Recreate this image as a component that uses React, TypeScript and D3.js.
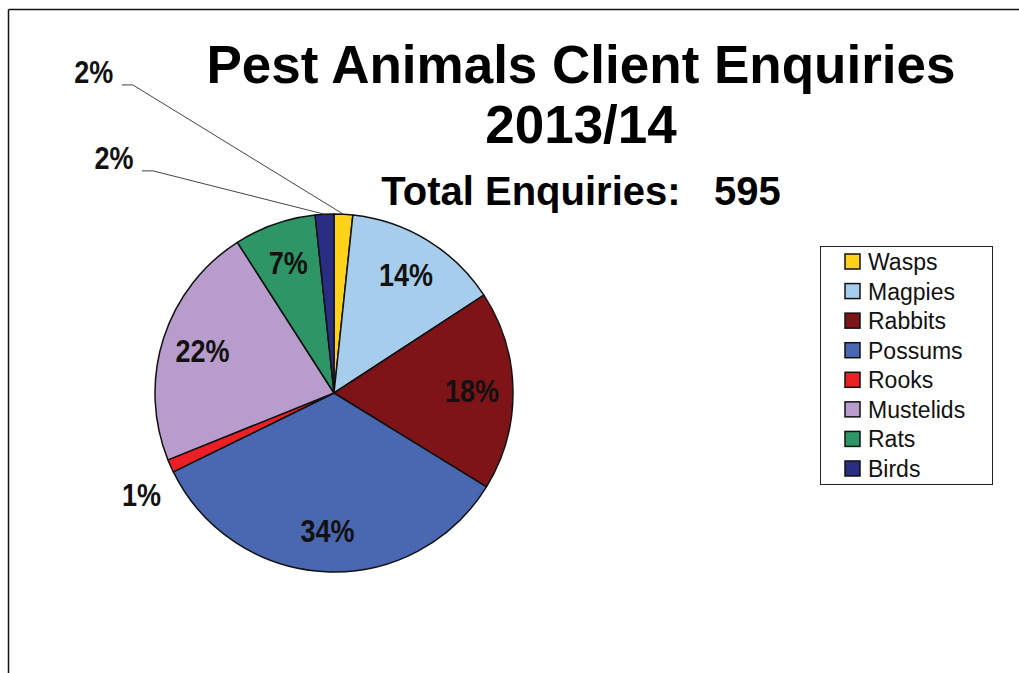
import { useEffect, useRef } from 'react';
import * as d3 from 'd3';

/**
 * Pest animals client enquiries 2013/14 — pie chart, 595 enquiries in total,
 * starting at 12 o'clock and running clockwise.
 */

const WIDTH = 1019;
const HEIGHT = 673;
const FONT = 'Liberation Sans, Arial, Helvetica, sans-serif';

const CATEGORIES = ['Wasps', 'Magpies', 'Rabbits', 'Possums', 'Rooks', 'Mustelids', 'Rats', 'Birds'];
const ENQUIRIES = [10, 84, 107, 202, 7, 131, 44, 10];
const COLORS = ['#ffd21a', '#a7cdec', '#7e1417', '#4a67b2', '#ec1f26', '#b89ccb', '#2e9566', '#2a2e82'];

/** Labels pulled outside the pie: polar placement (degrees clockwise from top, radius px). */
const OUTSIDE_LABELS: Record<string, { angle: number; radius: number; leader: boolean }> = {
  Rooks: { angle: 242, radius: 218, leader: false },
  Birds: { angle: 316.9, radius: 322, leader: true },
  Wasps: { angle: 323.2, radius: 401, leader: true },
};

const PIE_CENTER = { x: 334, y: 393 };
const PIE_RADIUS = 179;
const INSIDE_LABEL_RADIUS = 138;

export default function App() {
  const svgRef = useRef<SVGSVGElement | null>(null);

  useEffect(() => {
    const svgEl = svgRef.current;
    if (!svgEl) return;
    const svg = d3.select(svgEl);
    svg.selectAll('*').remove();

    const total = d3.sum(ENQUIRIES);
    const rows = CATEGORIES.map((name, i) => ({ name, value: ENQUIRIES[i], color: COLORS[i] }));

    // ---- Frame (top + left edges only) ---------------------------------
    svg.append('line').attr('x1', 8.5).attr('x2', WIDTH).attr('y1', 9.5).attr('y2', 9.5)
      .attr('stroke', '#111').attr('stroke-width', 1.5);
    svg.append('line').attr('x1', 8.5).attr('x2', 8.5).attr('y1', 9.5).attr('y2', HEIGHT)
      .attr('stroke', '#111').attr('stroke-width', 1.5);

    // ---- Titles ---------------------------------------------------------
    const titleX = 581;
    svg.append('text').attr('x', titleX).attr('y', 83).attr('text-anchor', 'middle')
      .attr('font-family', FONT).attr('font-weight', 'bold').attr('font-size', 53)
      .attr('fill', '#000').text('Pest Animals Client Enquiries');
    svg.append('text').attr('x', titleX).attr('y', 143).attr('text-anchor', 'middle')
      .attr('font-family', FONT).attr('font-weight', 'bold').attr('font-size', 53)
      .attr('fill', '#000').text('2013/14');
    svg.append('text').attr('x', titleX).attr('y', 205).attr('text-anchor', 'middle')
      .attr('font-family', FONT).attr('font-weight', 'bold').attr('font-size', 40)
      .attr('fill', '#000').style('white-space', 'pre')
      .text(`Total Enquiries:   ${total}`);

    // ---- Pie -------------------------------------------------------------
    const pie = d3.pie<{ name: string; value: number; color: string }>()
      .value((d) => d.value).sort(null);
    const arcs = pie(rows);
    const arc = d3.arc<d3.PieArcDatum<{ name: string; value: number; color: string }>>()
      .innerRadius(0).outerRadius(PIE_RADIUS);
    const labelArc = d3.arc<d3.PieArcDatum<{ name: string; value: number; color: string }>>()
      .innerRadius(INSIDE_LABEL_RADIUS).outerRadius(INSIDE_LABEL_RADIUS);

    const root = svg.append('g').attr('transform', `translate(${PIE_CENTER.x}, ${PIE_CENTER.y})`);
    root.selectAll('path.slice').data(arcs).join('path')
      .attr('class', 'slice')
      .attr('d', arc)
      .attr('fill', (d) => d.data.color)
      .attr('stroke', '#111')
      .attr('stroke-width', 1.5)
      .attr('stroke-linejoin', 'round');

    const polar = (angleDeg: number, r: number): [number, number] => {
      const a = (angleDeg * Math.PI) / 180;
      return [Math.sin(a) * r, -Math.cos(a) * r];
    };

    arcs.forEach((d) => {
      const pct = `${Math.round((d.data.value / total) * 100)}%`;
      const outside = OUTSIDE_LABELS[d.data.name];
      let lx: number;
      let ly: number;
      if (outside) {
        [lx, ly] = polar(outside.angle, outside.radius);
      } else {
        [lx, ly] = labelArc.centroid(d);
      }
      root.append('text')
        .attr('transform', `translate(${lx}, ${ly + 11}) scale(0.87, 1)`)
        .attr('text-anchor', 'middle')
        .attr('font-family', FONT)
        .attr('font-weight', 'bold')
        .attr('font-size', 31)
        .attr('fill', '#111')
        .text(pct);

      if (outside && outside.leader) {
        const mid = (d.startAngle + d.endAngle) / 2;
        const ex = Math.sin(mid) * PIE_RADIUS;
        const ey = -Math.cos(mid) * PIE_RADIUS;
        const sx = lx + 28;
        const sy = ly + 13;
        root.append('path')
          .attr('d', `M${sx},${sy} L${sx + 11},${sy} L${ex},${ey}`)
          .attr('fill', 'none')
          .attr('stroke', '#444')
          .attr('stroke-width', 1);
      }
    });

    // ---- Legend ----------------------------------------------------------
    const legendX = 820;
    const legendY = 246;
    const legendW = 172;
    const legendH = 238;
    const rowStep = d3.scaleLinear().domain([0, CATEGORIES.length - 1]).range([262, 469]);

    svg.append('rect').attr('x', legendX + 0.5).attr('y', legendY + 0.5)
      .attr('width', legendW).attr('height', legendH)
      .attr('fill', '#fff').attr('stroke', '#222').attr('stroke-width', 1);

    const items = svg.append('g').selectAll('g').data(rows).join('g')
      .attr('transform', (_, i) => `translate(${legendX + 25}, ${rowStep(i)})`);
    items.append('rect')
      .attr('x', 0).attr('y', -8).attr('width', 15).attr('height', 15)
      .attr('fill', (d) => d.color).attr('stroke', '#111').attr('stroke-width', 1.5);
    items.append('text')
      .attr('x', 23).attr('y', 8)
      .attr('font-family', FONT).attr('font-size', 23).attr('fill', '#111')
      .attr('textLength', null)
      .text((d) => d.name);
  }, []);

  return (
    <div style={{ position: 'absolute', left: 0, top: 0, width: WIDTH, height: HEIGHT, background: '#fff' }}>
      <svg
        ref={svgRef}
        width={WIDTH}
        height={HEIGHT}
        viewBox={`0 0 ${WIDTH} ${HEIGHT}`}
        style={{ display: 'block' }}
        role="img"
        aria-label="Pest Animals Client Enquiries 2013/14 pie chart"
      />
    </div>
  );
}
